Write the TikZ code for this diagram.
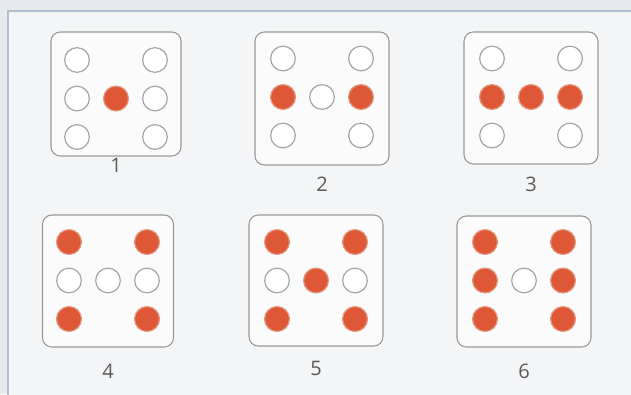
\documentclass[tikz,border=0pt]{standalone}
\usepackage{fontspec}
\newfontfamily\numfont{Open Sans}
\definecolor{pipred}{RGB}{222,88,56}
\definecolor{piprim}{RGB}{238,150,118}
\definecolor{holegray}{RGB}{165,165,165}
\definecolor{frameblue}{RGB}{178,192,212}
\definecolor{pagebg}{RGB}{244,245,247}
\definecolor{outbg}{RGB}{230,234,239}
\tikzset{
  diebox/.style={draw=gray!80, line width=0.8pt, fill=white!60!pagebg, rounded corners=7pt, inner sep=0pt},
  hole/.style={circle, draw=holegray, line width=0.9pt, fill=white, minimum size=18.5pt, inner sep=0pt},
  pip/.style={circle, draw=piprim, line width=0.7pt, fill=pipred, minimum size=18.5pt, inner sep=0pt},
  lbl/.style={font=\numfont\fontsize{15}{18}\selectfont, text=black!65}
}
\begin{document}
\begin{tikzpicture}[x=0.75pt,y=-0.75pt]
\useasboundingbox (0,0) rectangle (631,394);
\fill[outbg] (0,0) rectangle (631,394);
\draw[frameblue, line width=1pt, fill=pagebg] (8,11) rectangle (640,400);
% die: number/x/y of middle hole/box width/box height/box y/label y/red holes
\foreach \n/\cx/\cy/\bw/\bh/\by/\ly/\on in {
  1/116/98.5/130/124/94/165/{c},
  2/322/97/134/133/98.5/184/{ml,mr},
  3/531/97/134/132/98/184/{ml,c,mr},
  4/108/280.5/131/132/281/371/{tl,tr,bl,br},
  5/316/280.5/134/131/280.5/368/{tl,tr,c,bl,br},
  6/524/280.5/134/131/281.5/371/{tl,tr,ml,mr,bl,br}}{
  \node[diebox, minimum width={\bw*0.75pt}, minimum height={\bh*0.75pt}] (die\n) at (\cx,\by) {};
  \foreach \h/\dx/\dy in {tl/-1/-1,tr/1/-1,ml/-1/0,c/0/0,mr/1/0,bl/-1/1,br/1/1}
    \node[hole] (h\n\h) at (\cx+39*\dx,\cy+38.5*\dy) {};
  \foreach \h in \on
    \node[pip] (p\n\h) at (h\n\h) {};
  \node[lbl] (num\n) at (\cx,\ly) {\n};
}
\end{tikzpicture}
\end{document}
